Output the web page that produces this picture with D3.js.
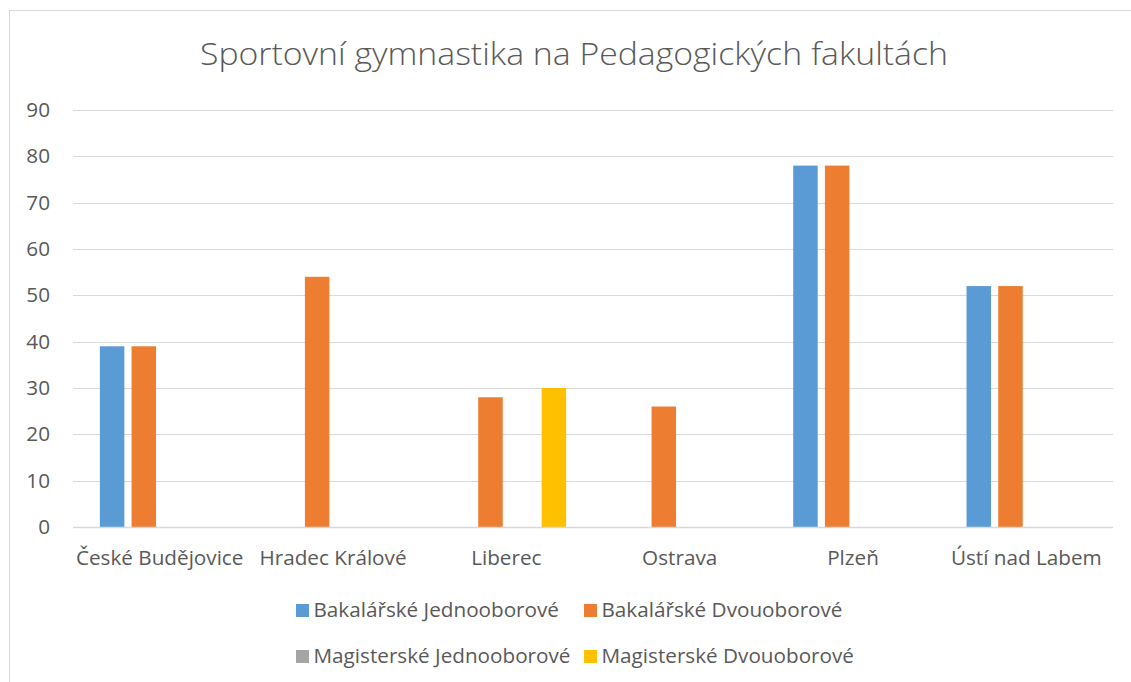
<!DOCTYPE html>
<html><head><meta charset="utf-8">
<script src="https://cdn.jsdelivr.net/npm/d3@7"></script>
<style>
html,body{margin:0;padding:0;background:#fff;}
text{font-family:"Open Sans",sans-serif;fill:#595959;}
</style></head>
<body>
<svg id="chart" width="1131" height="682"></svg>
<script>
const title = "Sportovní gymnastika na Pedagogických fakultách";
const categories = ["České Budějovice","Hradec Králové","Liberec","Ostrava","Plzeň","Ústí nad Labem"];
const seriesNames = ["Bakalářské Jednooborové","Bakalářské Dvouoborové","Magisterské Jednooborové","Magisterské Dvouoborové"];
const seriesColors = ["#5B9BD5","#ED7D31","#A5A5A5","#FFC000"];
const bakJedno = [39,0,0,0,78,52];
const bakDvou  = [39,54,28,26,78,52];
const magJedno = [0,0,0,0,0,0];
const magDvou  = [0,0,30,0,0,0];
const seriesValues = [bakJedno,bakDvou,magJedno,magDvou];
const yTicks = [0,10,20,30,40,50,60,70,80,90];

const FONT = "'Open Sans',sans-serif";
const LBL = "20.7px";
const svg = d3.select("#chart");
// chart border
svg.append("rect").attr("x",9.5).attr("y",10.5).attr("width",1140).attr("height",700)
  .attr("fill","none").attr("stroke","#D9D9D9").attr("stroke-width",1);

const pLeft=73, pRight=1113, pTop=110, pBottom=527;
const y = d3.scaleLinear().domain([0,90]).range([pBottom,pTop]);
const x0 = d3.scaleBand().domain(categories).range([pLeft,pRight]).padding(0);
const groupW = 119.6;
const x1 = d3.scaleBand().domain(seriesNames).range([(x0.bandwidth()-groupW)/2,(x0.bandwidth()+groupW)/2]).paddingInner(0.227).paddingOuter(0);

// gridlines
svg.append("g").selectAll("line").data(yTicks).join("line")
  .attr("x1",pLeft).attr("x2",pRight)
  .attr("y1",d=>Math.round(y(d))+0.5).attr("y2",d=>Math.round(y(d))+0.5)
  .attr("stroke","#D9D9D9").attr("stroke-width",1);

// y labels
const yAxis = d3.axisLeft(y).tickValues(yTicks).tickSize(0).tickPadding(0);
const ya = svg.append("g").attr("transform",`translate(50,0)`).call(yAxis);
ya.select(".domain").remove();
ya.selectAll("text").style("font-family",FONT).style("font-size",LBL).attr("fill","#595959");

// bars
const rows = categories.map((c,i)=>({cat:c, vals:seriesNames.map((s,j)=>({s, v:seriesValues[j][i], color:seriesColors[j]}))}));
svg.append("g").selectAll("g").data(rows).join("g")
  .attr("transform",d=>`translate(${x0(d.cat)},0)`)
  .selectAll("rect").data(d=>d.vals.filter(v=>v.v>0)).join("rect")
  .attr("x",d=>x1(d.s)).attr("width",x1.bandwidth())
  .attr("y",d=>y(d.v)).attr("height",d=>y(0)-y(d.v))
  .attr("fill",d=>d.color);

// zero axis line
svg.append("line").attr("x1",pLeft).attr("x2",pRight).attr("y1",Math.round(y(0))+0.5).attr("y2",Math.round(y(0))+0.5)
  .attr("stroke","#D9D9D9").attr("stroke-width",1.3);

// x labels
const xAxis = d3.axisBottom(x0).tickSize(0).tickPadding(0);
const xa = svg.append("g").attr("transform",`translate(0,${pBottom+23})`).call(xAxis);
xa.select(".domain").remove();
xa.selectAll("text").style("font-family",FONT).style("font-size",LBL).attr("fill","#595959");

// title
svg.append("text").attr("x",574).attr("y",65).attr("text-anchor","middle")
  .attr("textLength",748).attr("lengthAdjust","spacingAndGlyphs")
  .style("font-family",FONT).style("font-size","31px").style("font-weight","300").text(title);

// legend
const legPos = [[296,617],[584,617],[296,663],[584,663]];
const leg = svg.append("g").selectAll("g").data(seriesNames).join("g")
  .attr("transform",(d,i)=>`translate(${legPos[i][0]},${legPos[i][1]})`);
leg.append("rect").attr("x",0).attr("y",-13).attr("width",13).attr("height",13).attr("fill",(d,i)=>seriesColors[i]);
leg.append("text").attr("x",17.5).attr("y",0)
  .style("font-family",FONT).style("font-size","20.7px").text(d=>d);
</script>
</body></html>
